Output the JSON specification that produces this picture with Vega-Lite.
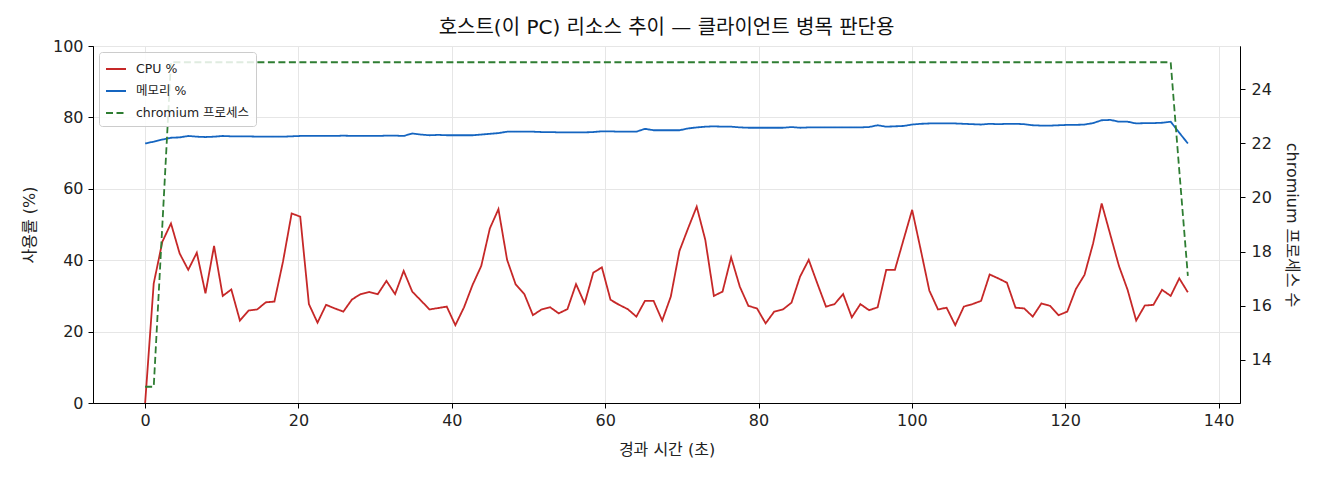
{
  "$schema": "https://vega.github.io/schema/vega-lite/v6.json",
  "width": 1147,
  "height": 357,
  "autosize": {"type": "none"},
  "padding": {"left": 93, "top": 46, "right": 80, "bottom": 77},
  "background": "white",
  "config": {
    "font": "DejaVu Sans, Noto Sans CJK KR",
    "view": {"stroke": "black", "strokeWidth": 1},
    "axis": {
      "labelFont": "DejaVu Sans, Noto Sans CJK KR",
      "titleFont": "DejaVu Sans, Noto Sans CJK KR",
      "labelFontSize": 16,
      "labelColor": "#222222",
      "titleFontSize": 16,
      "titleFontWeight": "normal",
      "titleColor": "#222222",
      "tickColor": "black",
      "domainColor": "black",
      "tickSize": 5,
      "gridColor": "#e6e6e6",
      "labelPadding": 5
    }
  },
  "title": {
    "text": "호스트(이 PC) 리소스 추이 — 클라이언트 병목 판단용",
    "font": "DejaVu Sans, Noto Sans CJK KR",
    "fontSize": 20,
    "fontWeight": "normal",
    "color": "#111111",
    "anchor": "middle",
    "offset": 0
  },
  "data": {
    "values": [
      {"t": 0, "cpu": 0, "mem": 72.7, "chromium": 13},
      {"t": 1.12, "cpu": 33.5, "mem": 73.2, "chromium": 13},
      {"t": 2.25, "cpu": 45.2, "mem": 73.8, "chromium": 19},
      {"t": 3.37, "cpu": 50.3, "mem": 74.3, "chromium": 25},
      {"t": 4.5, "cpu": 41.9, "mem": 74.4, "chromium": 25},
      {"t": 5.62, "cpu": 37.3, "mem": 74.8, "chromium": 25},
      {"t": 6.74, "cpu": 42.1, "mem": 74.6, "chromium": 25},
      {"t": 7.87, "cpu": 30.7, "mem": 74.5, "chromium": 25},
      {"t": 8.99, "cpu": 44.0, "mem": 74.6, "chromium": 25},
      {"t": 10.12, "cpu": 30.0, "mem": 74.8, "chromium": 25},
      {"t": 11.24, "cpu": 31.8, "mem": 74.7, "chromium": 25},
      {"t": 12.36, "cpu": 23.1, "mem": 74.7, "chromium": 25},
      {"t": 13.49, "cpu": 25.9, "mem": 74.7, "chromium": 25},
      {"t": 14.61, "cpu": 26.2, "mem": 74.6, "chromium": 25},
      {"t": 15.74, "cpu": 28.2, "mem": 74.6, "chromium": 25},
      {"t": 16.86, "cpu": 28.4, "mem": 74.6, "chromium": 25},
      {"t": 17.98, "cpu": 39.6, "mem": 74.6, "chromium": 25},
      {"t": 19.11, "cpu": 53.1, "mem": 74.7, "chromium": 25},
      {"t": 20.23, "cpu": 52.2, "mem": 74.8, "chromium": 25},
      {"t": 21.36, "cpu": 27.7, "mem": 74.8, "chromium": 25},
      {"t": 22.48, "cpu": 22.5, "mem": 74.8, "chromium": 25},
      {"t": 23.6, "cpu": 27.5, "mem": 74.8, "chromium": 25},
      {"t": 24.73, "cpu": 26.5, "mem": 74.8, "chromium": 25},
      {"t": 25.85, "cpu": 25.6, "mem": 74.9, "chromium": 25},
      {"t": 26.98, "cpu": 29.0, "mem": 74.8, "chromium": 25},
      {"t": 28.1, "cpu": 30.5, "mem": 74.8, "chromium": 25},
      {"t": 29.22, "cpu": 31.1, "mem": 74.8, "chromium": 25},
      {"t": 30.35, "cpu": 30.5, "mem": 74.8, "chromium": 25},
      {"t": 31.47, "cpu": 34.2, "mem": 74.9, "chromium": 25},
      {"t": 32.6, "cpu": 30.5, "mem": 74.9, "chromium": 25},
      {"t": 33.72, "cpu": 37.0, "mem": 74.8, "chromium": 25},
      {"t": 34.84, "cpu": 31.2, "mem": 75.5, "chromium": 25},
      {"t": 35.97, "cpu": 28.7, "mem": 75.2, "chromium": 25},
      {"t": 37.09, "cpu": 26.2, "mem": 75.0, "chromium": 25},
      {"t": 38.22, "cpu": 26.6, "mem": 75.1, "chromium": 25},
      {"t": 39.34, "cpu": 27.0, "mem": 75.0, "chromium": 25},
      {"t": 40.46, "cpu": 21.8, "mem": 75.0, "chromium": 25},
      {"t": 41.59, "cpu": 26.8, "mem": 75.0, "chromium": 25},
      {"t": 42.71, "cpu": 33.1, "mem": 75.0, "chromium": 25},
      {"t": 43.84, "cpu": 38.4, "mem": 75.2, "chromium": 25},
      {"t": 44.96, "cpu": 48.9, "mem": 75.4, "chromium": 25},
      {"t": 46.08, "cpu": 54.3, "mem": 75.6, "chromium": 25},
      {"t": 47.21, "cpu": 40.1, "mem": 76.0, "chromium": 25},
      {"t": 48.33, "cpu": 33.2, "mem": 76.0, "chromium": 25},
      {"t": 49.46, "cpu": 30.5, "mem": 76.0, "chromium": 25},
      {"t": 50.58, "cpu": 24.6, "mem": 76.0, "chromium": 25},
      {"t": 51.7, "cpu": 26.2, "mem": 75.9, "chromium": 25},
      {"t": 52.83, "cpu": 26.8, "mem": 75.9, "chromium": 25},
      {"t": 53.95, "cpu": 25.1, "mem": 75.8, "chromium": 25},
      {"t": 55.08, "cpu": 26.3, "mem": 75.8, "chromium": 25},
      {"t": 56.2, "cpu": 33.3, "mem": 75.8, "chromium": 25},
      {"t": 57.32, "cpu": 27.9, "mem": 75.8, "chromium": 25},
      {"t": 58.45, "cpu": 36.5, "mem": 75.9, "chromium": 25},
      {"t": 59.57, "cpu": 38.0, "mem": 76.1, "chromium": 25},
      {"t": 60.7, "cpu": 28.9, "mem": 76.1, "chromium": 25},
      {"t": 61.82, "cpu": 27.5, "mem": 76.0, "chromium": 25},
      {"t": 62.94, "cpu": 26.3, "mem": 76.0, "chromium": 25},
      {"t": 64.07, "cpu": 24.2, "mem": 76.0, "chromium": 25},
      {"t": 65.19, "cpu": 28.6, "mem": 76.8, "chromium": 25},
      {"t": 66.32, "cpu": 28.6, "mem": 76.4, "chromium": 25},
      {"t": 67.44, "cpu": 23.1, "mem": 76.4, "chromium": 25},
      {"t": 68.56, "cpu": 29.8, "mem": 76.4, "chromium": 25},
      {"t": 69.69, "cpu": 42.6, "mem": 76.4, "chromium": 25},
      {"t": 70.81, "cpu": 48.9, "mem": 76.9, "chromium": 25},
      {"t": 71.94, "cpu": 55.0, "mem": 77.2, "chromium": 25},
      {"t": 73.06, "cpu": 45.7, "mem": 77.4, "chromium": 25},
      {"t": 74.18, "cpu": 30.0, "mem": 77.5, "chromium": 25},
      {"t": 75.31, "cpu": 31.2, "mem": 77.4, "chromium": 25},
      {"t": 76.43, "cpu": 40.8, "mem": 77.4, "chromium": 25},
      {"t": 77.56, "cpu": 32.6, "mem": 77.2, "chromium": 25},
      {"t": 78.68, "cpu": 27.2, "mem": 77.1, "chromium": 25},
      {"t": 79.8, "cpu": 26.5, "mem": 77.1, "chromium": 25},
      {"t": 80.93, "cpu": 22.3, "mem": 77.1, "chromium": 25},
      {"t": 82.05, "cpu": 25.6, "mem": 77.1, "chromium": 25},
      {"t": 83.18, "cpu": 26.2, "mem": 77.1, "chromium": 25},
      {"t": 84.3, "cpu": 28.1, "mem": 77.3, "chromium": 25},
      {"t": 85.42, "cpu": 35.4, "mem": 77.1, "chromium": 25},
      {"t": 86.55, "cpu": 40.1, "mem": 77.2, "chromium": 25},
      {"t": 87.67, "cpu": 33.5, "mem": 77.2, "chromium": 25},
      {"t": 88.8, "cpu": 27.0, "mem": 77.2, "chromium": 25},
      {"t": 89.92, "cpu": 27.7, "mem": 77.2, "chromium": 25},
      {"t": 91.04, "cpu": 30.5, "mem": 77.2, "chromium": 25},
      {"t": 92.17, "cpu": 24.0, "mem": 77.2, "chromium": 25},
      {"t": 93.29, "cpu": 27.7, "mem": 77.2, "chromium": 25},
      {"t": 94.42, "cpu": 26.0, "mem": 77.3, "chromium": 25},
      {"t": 95.54, "cpu": 26.8, "mem": 77.8, "chromium": 25},
      {"t": 96.66, "cpu": 37.3, "mem": 77.4, "chromium": 25},
      {"t": 97.79, "cpu": 37.3, "mem": 77.5, "chromium": 25},
      {"t": 98.91, "cpu": 45.7, "mem": 77.6, "chromium": 25},
      {"t": 100.04, "cpu": 54.1, "mem": 78.0, "chromium": 25},
      {"t": 101.16, "cpu": 42.9, "mem": 78.2, "chromium": 25},
      {"t": 102.28, "cpu": 31.5, "mem": 78.3, "chromium": 25},
      {"t": 103.41, "cpu": 26.2, "mem": 78.3, "chromium": 25},
      {"t": 104.53, "cpu": 26.7, "mem": 78.3, "chromium": 25},
      {"t": 105.66, "cpu": 21.8, "mem": 78.3, "chromium": 25},
      {"t": 106.78, "cpu": 27.0, "mem": 78.2, "chromium": 25},
      {"t": 107.9, "cpu": 27.7, "mem": 78.1, "chromium": 25},
      {"t": 109.03, "cpu": 28.6, "mem": 78.0, "chromium": 25},
      {"t": 110.15, "cpu": 36.0, "mem": 78.2, "chromium": 25},
      {"t": 111.28, "cpu": 34.9, "mem": 78.1, "chromium": 25},
      {"t": 112.4, "cpu": 33.7, "mem": 78.2, "chromium": 25},
      {"t": 113.52, "cpu": 26.7, "mem": 78.2, "chromium": 25},
      {"t": 114.65, "cpu": 26.5, "mem": 78.1, "chromium": 25},
      {"t": 115.77, "cpu": 24.2, "mem": 77.8, "chromium": 25},
      {"t": 116.9, "cpu": 27.9, "mem": 77.7, "chromium": 25},
      {"t": 118.02, "cpu": 27.2, "mem": 77.7, "chromium": 25},
      {"t": 119.14, "cpu": 24.6, "mem": 77.8, "chromium": 25},
      {"t": 120.27, "cpu": 25.6, "mem": 77.9, "chromium": 25},
      {"t": 121.39, "cpu": 31.9, "mem": 77.9, "chromium": 25},
      {"t": 122.52, "cpu": 35.9, "mem": 78.0, "chromium": 25},
      {"t": 123.64, "cpu": 44.7, "mem": 78.4, "chromium": 25},
      {"t": 124.76, "cpu": 55.9, "mem": 79.2, "chromium": 25},
      {"t": 125.89, "cpu": 47.1, "mem": 79.3, "chromium": 25},
      {"t": 127.01, "cpu": 38.4, "mem": 78.8, "chromium": 25},
      {"t": 128.14, "cpu": 31.7, "mem": 78.8, "chromium": 25},
      {"t": 129.26, "cpu": 23.1, "mem": 78.3, "chromium": 25},
      {"t": 130.38, "cpu": 27.3, "mem": 78.4, "chromium": 25},
      {"t": 131.51, "cpu": 27.5, "mem": 78.4, "chromium": 25},
      {"t": 132.63, "cpu": 31.7, "mem": 78.5, "chromium": 25},
      {"t": 133.76, "cpu": 30.0, "mem": 78.8, "chromium": 25},
      {"t": 134.88, "cpu": 34.9, "mem": 75.7, "chromium": 21},
      {"t": 136.0, "cpu": 31.0, "mem": 72.7, "chromium": 17.1}
    ]
  },
  "encoding": {
    "x": {
      "field": "t",
      "type": "quantitative",
      "scale": {"domain": [-6.8, 142.8], "nice": false, "zero": false},
      "axis": {
        "title": "경과 시간 (초)",
        "values": [0, 20, 40, 60, 80, 100, 120, 140],
        "grid": true,
        "labelPadding": 4,
        "titlePadding": 13
      }
    }
  },
  "layer": [
    {
      "transform": [{"fold": ["cpu", "mem"], "as": ["series", "v"]}],
      "mark": {"type": "line", "strokeWidth": 1.8},
      "encoding": {
        "y": {
          "field": "v",
          "type": "quantitative",
          "scale": {"domain": [0, 100], "nice": false},
          "axis": {
            "title": "사용률 (%)",
            "values": [0, 20, 40, 60, 80, 100],
            "grid": true,
            "titlePadding": 15
          }
        },
        "color": {
          "field": "series",
          "type": "nominal",
          "scale": {"domain": ["cpu", "mem", "chromium"], "range": ["#c62828", "#1565c0", "#2e7d32"]},
          "legend": {
            "title": null,
            "orient": "top-left",
            "offset": 6,
            "fillColor": "rgba(255,255,255,0.85)",
            "strokeColor": "#cccccc",
            "cornerRadius": 3,
            "padding": 6,
            "labelFont": "DejaVu Sans, Noto Sans CJK KR",
            "labelFontSize": 12.5,
            "labelColor": "#222222",
            "labelOffset": 9,
            "symbolType": "stroke",
            "symbolSize": 400,
            "symbolStrokeWidth": 1.8,
            "rowPadding": 4,
            "labelExpr": "datum.label == 'cpu' ? 'CPU %' : datum.label == 'mem' ? '메모리 %' : 'chromium 프로세스'"
          }
        },
        "strokeDash": {
          "field": "series",
          "type": "nominal",
          "scale": {"domain": ["cpu", "mem", "chromium"], "range": [[1, 0], [1, 0], [7, 3.5]]},
          "legend": {
            "title": null,
            "orient": "top-left",
            "offset": 6,
            "fillColor": "rgba(255,255,255,0.85)",
            "strokeColor": "#cccccc",
            "cornerRadius": 3,
            "padding": 6,
            "labelFont": "DejaVu Sans, Noto Sans CJK KR",
            "labelFontSize": 12.5,
            "labelColor": "#222222",
            "labelOffset": 9,
            "symbolType": "stroke",
            "symbolSize": 400,
            "symbolStrokeWidth": 1.8,
            "rowPadding": 4,
            "labelExpr": "datum.label == 'cpu' ? 'CPU %' : datum.label == 'mem' ? '메모리 %' : 'chromium 프로세스'"
          }
        }
      }
    },
    {
      "transform": [{"fold": ["chromium"], "as": ["series", "v"]}],
      "mark": {"type": "line", "strokeWidth": 1.8},
      "encoding": {
        "y": {
          "field": "v",
          "type": "quantitative",
          "scale": {"domain": [12.4, 25.6], "nice": false, "zero": false},
          "axis": {
            "orient": "right",
            "title": "chromium 프로세스 수",
            "values": [14, 16, 18, 20, 22, 24],
            "grid": false,
            "labelPadding": 6,
            "titlePadding": 12
          }
        },
        "color": {"field": "series", "type": "nominal"},
        "strokeDash": {"field": "series", "type": "nominal"}
      }
    }
  ],
  "resolve": {"scale": {"y": "independent"}}
}
